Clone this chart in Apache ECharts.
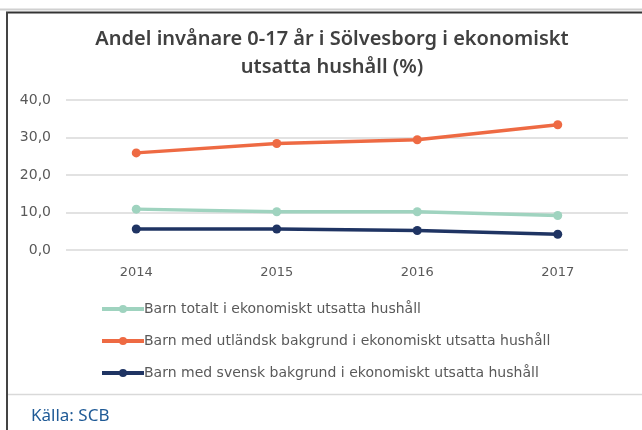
<!DOCTYPE html>
<html>
<head>
<meta charset="utf-8">
<script src="https://cdn.jsdelivr.net/npm/echarts@6/dist/echarts.min.js"></script>
<style>
  html, body { margin: 0; padding: 0; background: #fff; }
  #chart { width: 642px; height: 430px; }
</style>
</head>
<body>
<div id="chart"></div>
<script>
  // kategorier och värden
  const years = ['2014', '2015', '2016', '2017'];
  const totalt = [10.9, 10.2, 10.2, 9.2];
  const utlandsk = [25.9, 28.4, 29.4, 33.4];
  const svensk = [5.6, 5.6, 5.2, 4.2];
  const seriesNames = [
    'Barn totalt i ekonomiskt utsatta hushåll',
    'Barn med utländsk bakgrund i ekonomiskt utsatta hushåll',
    'Barn med svensk bakgrund i ekonomiskt utsatta hushåll'
  ];
  const colors = ['#9fd3bf', '#ee6a43', '#1f3463'];

  const chart = echarts.init(document.getElementById('chart'));

  const makeSeries = (name, data, color) => ({
    name,
    type: 'line',
    data,
    symbol: 'circle',
    symbolSize: 9,
    lineStyle: { width: 3.5, color },
    itemStyle: { color },
    animation: false
  });

  const option = {
    backgroundColor: '#fff',
    title: {
      text: 'Andel invånare 0-17 år i Sölvesborg i ekonomiskt\nutsatta hushåll (%)',
      left: 327,
      top: 20,
      textAlign: 'center',
      textStyle: {
        fontFamily: 'Noto Sans',
        fontSize: 20,
        fontWeight: 600,
        color: '#404040',
        lineHeight: 28
      }
    },
    legend: {
      orient: 'vertical',
      left: 95,
      top: 297,
      itemGap: 18,
      itemWidth: 42,
      itemHeight: 10,
      lineStyle: { width: 4 },
      textStyle: { fontFamily: 'DejaVu Sans', fontSize: 14, color: '#595959', padding: [0, 0, 0, -5] },
      data: seriesNames
    },
    grid: { left: 66, right: 14, top: 100, height: 150, containLabel: false },
    xAxis: {
      type: 'category',
      data: years,
      axisLine: { show: false },
      axisTick: { show: false },
      axisLabel: { fontFamily: 'DejaVu Sans', fontSize: 13, color: '#595959', margin: 16 }
    },
    yAxis: {
      type: 'value',
      min: 0,
      max: 40,
      interval: 10,
      axisLabel: {
        fontFamily: 'DejaVu Sans',
        fontSize: 14,
        color: '#595959',
        margin: 15,
        formatter: v => v.toFixed(1).replace('.', ',')
      },
      splitLine: { lineStyle: { color: '#d9d9d9', width: 1.5 } }
    },
    series: [
      makeSeries(seriesNames[0], totalt, colors[0]),
      makeSeries(seriesNames[1], utlandsk, colors[1]),
      makeSeries(seriesNames[2], svensk, colors[2])
    ],
    graphic: [
      { type: 'line', shape: { x1: 0, y1: 9.5, x2: 642, y2: 9.5 }, style: { stroke: '#d0d0d0', lineWidth: 2 } },
      { type: 'line', shape: { x1: 6, y1: 12.5, x2: 642, y2: 12.5 }, style: { stroke: '#333', lineWidth: 2 } },
      { type: 'line', shape: { x1: 7, y1: 12, x2: 7, y2: 430 }, style: { stroke: '#444', lineWidth: 2 } },
      { type: 'line', shape: { x1: 8, y1: 394.5, x2: 642, y2: 394.5 }, style: { stroke: '#d9d9d9', lineWidth: 1.5 } },
      {
        type: 'text', left: 31, top: 408,
        style: { text: 'Källa: SCB', fontFamily: 'Noto Sans', fontSize: 17, fill: '#1f5a96' }
      }
    ]
  };

  chart.setOption(option);
</script>
</body>
</html>
